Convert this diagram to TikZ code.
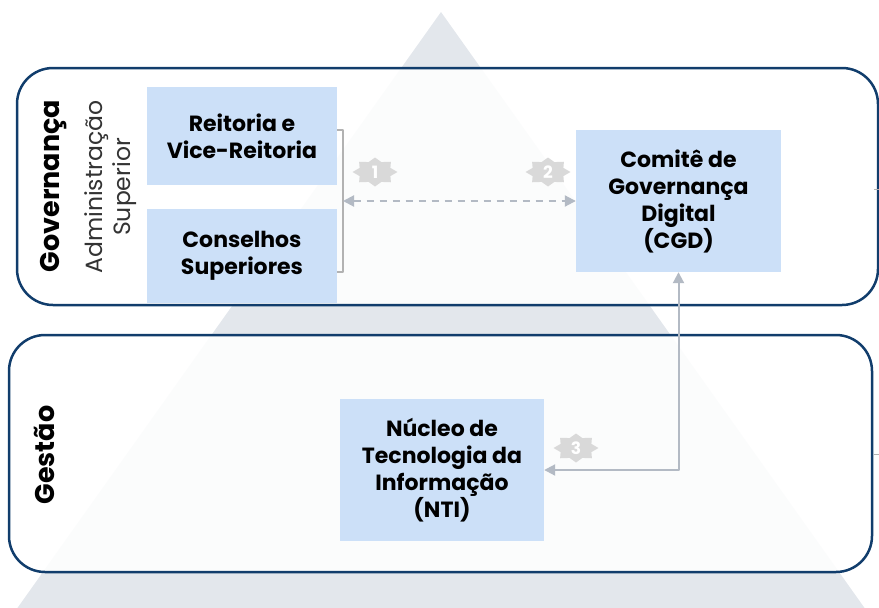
\documentclass[tikz,border=0pt]{standalone}
\usepackage{fontspec}
\setmainfont{Poppins}
\usetikzlibrary{positioning,arrows.meta,shapes.geometric}

\definecolor{navy}{HTML}{113D6C}
\definecolor{boxblue}{HTML}{CCE0F8}
\definecolor{pyramid}{HTML}{E3E7EC}
\definecolor{linkgray}{HTML}{B3BAC4}
\definecolor{badgegray}{HTML}{D9D9D9}

\begin{document}
\begin{tikzpicture}[
    x=1pt,
    y=-1pt,
    >={Triangle[length=11pt,width=11pt]},
    line join=round
]

\tikzstyle{panel}=[
    draw=navy,
    line width=2.5pt,
    fill=white,
    fill opacity=0.88,
    rounded corners=36pt
]

\tikzstyle{unit}=[
    fill=boxblue,
    inner sep=4pt,
    align=center,
    font=\fontsize{22}{27}\selectfont\bfseries
]

\tikzstyle{tier}=[
    rotate=90,
    align=center,
    font=\fontsize{27}{30}\selectfont\bfseries
]

\tikzstyle{link}=[
    draw=linkgray,
    line width=2pt
]

\tikzstyle{badge}=[
    star,
    star points=8,
    star point ratio=1.35,
    fill=badgegray,
    minimum size=29pt,
    inner sep=0pt,
    xscale=1.55,
    transform shape
]

\tikzstyle{badgenum}=[
    text=white,
    font=\fontsize{17}{17}\selectfont\bfseries
]

\useasboundingbox (0,0) rectangle (879,608);

% pyramid in the background
\fill[pyramid] (441,12) -- (866,610) -- (16,610) -- cycle;

% the two levels
\draw[panel] (17,68) rectangle (878,305);
\draw[panel] (9,335) rectangle (872,572);

\node[tier] (gov) at (54,186) {Governança};
\node[tier, font=\fontsize{23.5}{28}\selectfont, text=black!80] (adm) at (111,187) {Administração\\Superior};
\node[tier] (gest) at (44,455) {Gestão};

\node[unit, minimum width=190pt, minimum height=98pt] (reit) at (242,136) {Reitoria e\\Vice-Reitoria};
\node[unit, minimum width=190pt, minimum height=94pt] (cons) at (242,256) {Conselhos\\Superiores};
\node[unit, minimum width=205pt, minimum height=142pt] (cgd) at (678.5,201) {Comitê de\\Governança\\Digital\\(CGD)};
\node[unit, minimum width=204pt, minimum height=142pt] (nti) at (442,470) {Núcleo de\\Tecnologia da\\Informação\\(NTI)};

% bracket round the two councils
\coordinate (brtop) at (343,130);
\coordinate (brbot) at (343,272);
\coordinate (brmid) at (343,201);
\draw[draw=black!30, line width=1.2pt] (reit.east |- brtop) -- (brtop) -- (brbot) -- (cons.east |- brbot);

\draw[link, <->, dash pattern=on 7pt off 6pt] (brmid) -- (cgd.west);
\draw[link, <->] (nti.east) -| (cgd.south);

\node[badge] (b1) at (375,172) {};
\node[badgenum] (n1) at (b1.center) {1};
\node[badge] (b2) at (548,172) {};
\node[badgenum] (n2) at (b2.center) {2};
\node[badge] (b3) at (576,448) {};
\node[badgenum] (n3) at (b3.center) {3};

% cut-off ends on the right
\coordinate (cuta) at (874,189);
\coordinate (cutb) at (879,189);
\coordinate (cutc) at (874,454);
\coordinate (cutd) at (879,454);
\draw[draw=black!30, line width=1pt] (cuta) -- (cutb);
\draw[draw=black!30, line width=1pt] (cutc) -- (cutd);

\end{tikzpicture}
\end{document}
